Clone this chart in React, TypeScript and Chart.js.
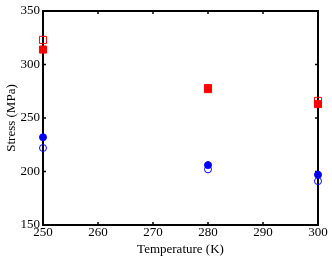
import React, { useEffect, useRef } from "react";
import { Chart, registerables } from "chart.js";

Chart.register(...registerables);

const temperatures = [250, 280, 300];
const redFilled = [314, 277, 263];
const redOpen = [323, 278, 266];
const blueFilled = [232, 206, 197];
const blueOpen = [222, 202, 191];
const xTicks = [250, 260, 270, 280, 290, 300];
const yTicks = [150, 200, 250, 300, 350];

const FONT = "'Liberation Serif', 'Times New Roman', serif";

const framePlugin = {
  id: "frame",
  beforeDatasetsDraw(chart: any) {
    const { ctx, chartArea } = chart;
    const { left, right, top, bottom } = chartArea;
    const xs = chart.scales.x;
    const ys = chart.scales.y;
    ctx.save();
    ctx.strokeStyle = "#000";
    ctx.lineWidth = 1.5;
    const tl = 3;
    ctx.beginPath();
    xTicks.forEach((t) => {
      const px = xs.getPixelForValue(t);
      ctx.moveTo(px, bottom);
      ctx.lineTo(px, bottom - tl);
      ctx.moveTo(px, top);
      ctx.lineTo(px, top + tl);
    });
    yTicks.forEach((t) => {
      const py = ys.getPixelForValue(t);
      ctx.moveTo(left, py);
      ctx.lineTo(left + tl, py);
      ctx.moveTo(right, py);
      ctx.lineTo(right - tl, py);
    });
    ctx.stroke();
    ctx.lineWidth = 2;
    ctx.strokeRect(left, top, right - left, bottom - top);
    ctx.restore();
  },
};

export default function App() {
  const ref = useRef<HTMLCanvasElement>(null);
  useEffect(() => {
    if (!ref.current) return;
    const mk = (vals: number[]) => temperatures.map((t, i) => ({ x: t, y: vals[i] }));
    const chart = new Chart(ref.current, {
      type: "scatter",
      data: {
        datasets: [
          {
            data: mk(redOpen),
            pointStyle: "rect",
            pointRadius: 5,
            backgroundColor: "rgba(0,0,0,0)",
            borderColor: "#ff0000",
            borderWidth: 1,
            clip: false,
          },
          {
            data: mk(redFilled),
            pointStyle: "rect",
            pointRadius: 5,
            backgroundColor: "#ff0000",
            borderColor: "#ff0000",
            borderWidth: 1,
            clip: false,
          },
          {
            data: mk(blueOpen),
            pointStyle: "circle",
            pointRadius: 3.5,
            backgroundColor: "rgba(0,0,0,0)",
            borderColor: "#0000ff",
            borderWidth: 1,
            clip: false,
          },
          {
            data: mk(blueFilled),
            pointStyle: "circle",
            pointRadius: 3.5,
            backgroundColor: "#0000ff",
            borderColor: "#0000ff",
            borderWidth: 1,
            clip: false,
          },
        ],
      },
      options: {
        animation: false,
        responsive: false,
        maintainAspectRatio: false,
        layout: { padding: { top: 11, right: 14, left: 0, bottom: 0 } },
        plugins: { legend: { display: false }, tooltip: { enabled: false } },
        scales: {
          x: {
            type: "linear",
            min: 250,
            max: 300,
            afterBuildTicks: (s: any) => {
              s.ticks = xTicks.map((v) => ({ value: v }));
            },
            afterFit: (s: any) => {
              s.height = 32;
            },
            grid: { display: false, drawTicks: false },
            border: { display: false },
            ticks: {
              color: "#000",
              font: { family: FONT, size: 13 },
              padding: 0,
              maxRotation: 0,
              autoSkip: false,
            },
            title: {
              display: true,
              text: "Temperature (K)",
              color: "#000",
              font: { family: FONT, size: 13 },
              padding: { top: 0, bottom: 0 },
            },
          },
          y: {
            type: "linear",
            min: 150,
            max: 350,
            afterBuildTicks: (s: any) => {
              s.ticks = yTicks.map((v) => ({ value: v }));
            },
            afterFit: (s: any) => {
              s.width = 43;
            },
            grid: { display: false, drawTicks: false },
            border: { display: false },
            ticks: {
              color: "#000",
              font: { family: FONT, size: 13 },
              padding: 3,
              autoSkip: false,
            },
            title: {
              display: true,
              text: "Stress (MPa)",
              color: "#000",
              font: { family: FONT, size: 13 },
              padding: { top: 4, bottom: 0 },
            },
          },
        },
      },
      plugins: [framePlugin],
    });
    return () => chart.destroy();
  }, []);
  return (
    <div style={{ position: "fixed", left: 0, top: 0, width: 332, height: 257, background: "#fff" }}>
      <canvas ref={ref} width={332} height={257} style={{ width: 332, height: 257 }} />
    </div>
  );
}
